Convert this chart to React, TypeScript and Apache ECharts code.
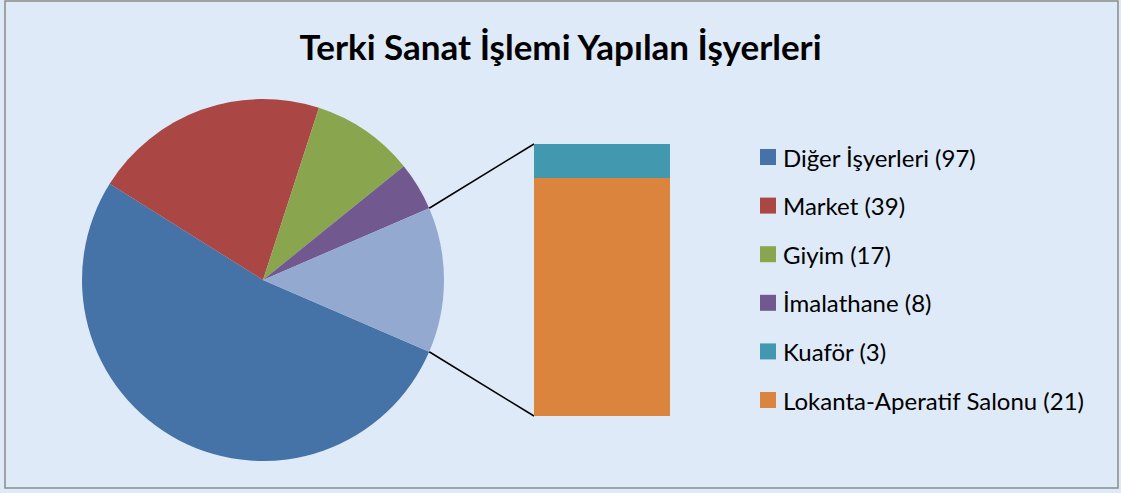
import React, { useEffect, useRef } from "react";
import * as echarts from "echarts";

const title = "Terki Sanat İşlemi Yapılan İşyerleri";
const pieNames = ["Diğer İşyerleri", "Market", "Giyim", "İmalathane"];
const pieValues = [97, 39, 17, 8];
const barNames = ["Kuaför", "Lokanta-Aperatif Salonu"];
const barValues = [3, 21];
const pieColors = ["#4572A7", "#AA4643", "#89A54E", "#71588F"];
const otherColor = "#93A9CF";
const barColors = ["#4198AF", "#DB843D"];

const W = 1121;
const H = 493;
const CX = 263;
const CY = 280;
const R = 181;
const GRID = { left: 534, top: 144, width: 136, height: 272 };
const FONT = "Lato, 'Open Sans', sans-serif";

export default function App() {
  const ref = useRef<HTMLDivElement>(null);
  useEffect(() => {
    document.body.style.margin = "0";
    if (!ref.current) return;
    const chart = echarts.init(ref.current, undefined, { renderer: "svg" });
    const otherTotal = barValues.reduce((a, b) => a + b, 0);
    const total = pieValues.reduce((a, b) => a + b, 0) + otherTotal;
    const half = ((otherTotal / total) * 360) / 2;
    const rad = (half * Math.PI) / 180;
    const px = CX + R * Math.cos(rad);
    const pyTop = CY - R * Math.sin(rad);
    const pyBot = CY + R * Math.sin(rad);

    const legendNames = [
      ...pieNames.map((n, i) => `${n} (${pieValues[i]})`),
      ...barNames.map((n, i) => `${n} (${barValues[i]})`),
    ];

    // bar series stacked: bottom is Lokanta, top Kuaför
    const barSeries = [1, 0].map((i) => ({
      type: "bar" as const,
      name: legendNames[pieNames.length + i],
      stack: "other",
      data: [barValues[i]],
      barWidth: "100%",
      itemStyle: { color: barColors[i] },
      xAxisIndex: 0,
      yAxisIndex: 0,
    }));

    chart.setOption({
      animation: false,
      backgroundColor: "#deeaf7",
      title: {
        text: title,
        left: "center",
        top: 23,
        textStyle: { fontFamily: FONT, fontSize: 35, fontWeight: "bold", color: "#000" },
      },
      legend: {
        orient: "vertical",
        left: 760,
        top: 145,
        padding: 0,
        itemWidth: 16,
        itemHeight: 16,
        itemGap: 24.6,
        icon: "rect",
        data: legendNames,
        textStyle: { fontFamily: FONT, fontSize: 24, lineHeight: 24, color: "#000", padding: [0, 0, 0, 2] },
        selectedMode: false,
      },
      grid: { ...GRID, containLabel: false },
      xAxis: { type: "category", data: [""], show: false },
      yAxis: { type: "value", min: 0, max: otherTotal, show: false },
      series: [
        {
          type: "pie",
          center: [CX, CY],
          radius: R,
          startAngle: -half,
          clockwise: true,
          label: { show: false },
          labelLine: { show: false },
          silent: true,
          data: [
            ...pieNames.map((n, i) => ({
              name: legendNames[i],
              value: pieValues[i],
              itemStyle: { color: pieColors[i] },
            })),
            { name: "Diğer", value: otherTotal, itemStyle: { color: otherColor } },
          ],
        },
        ...barSeries,
      ],
      graphic: [
        {
          type: "rect",
          shape: { x: 5, y: 1, width: 1113, height: 487 },
          style: { fill: "none", stroke: "#8c8c8c", lineWidth: 1.5 },
          silent: true,
        },
        {
          type: "line",
          shape: { x1: px, y1: pyTop, x2: GRID.left, y2: GRID.top },
          style: { stroke: "#000", lineWidth: 1.5 },
          silent: true,
        },
        {
          type: "line",
          shape: { x1: px, y1: pyBot, x2: GRID.left, y2: GRID.top + GRID.height },
          style: { stroke: "#000", lineWidth: 1.5 },
          silent: true,
        },
      ],
    });
    return () => chart.dispose();
  }, []);
  return <div ref={ref} style={{ width: W, height: H }} />;
}
